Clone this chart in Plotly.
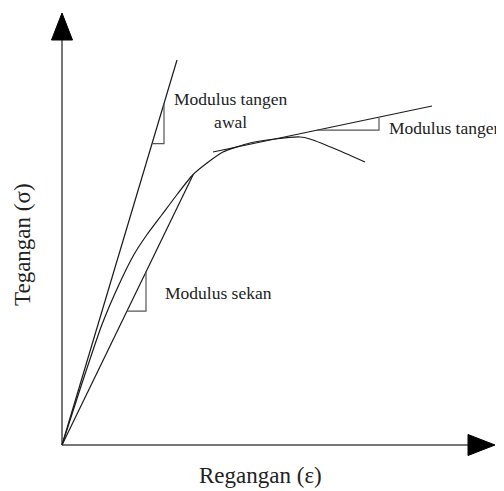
import plotly.graph_objects as go

# --- stress-strain sketch (arbitrary units, origin at 0,0) ---
curve_strain = [0, 19.4, 39.8, 56.8, 71.7, 84.7, 99.7, 114.7, 130.6, 145, 161, 188, 213, 238, 248, 271, 303]
curve_stress = [0, 60, 120, 160, 190, 210, 230, 250, 270, 282, 293, 302, 306, 308, 306, 297, 283]

# straight lines: [start, end] for strain and stress
initial_tangent_strain = [0, 115]
initial_tangent_stress = [0, 385]
secant_strain = [0, 131]
secant_stress = [0, 270]
tangent_strain = [151, 370]
tangent_stress = [293, 339]

# slope triangles: strain positions on each line
initial_tri = [90, 102]
secant_tri = [65, 84]
tangent_tri = [255, 317]

AXIS_X_END = 433
AXIS_Y_END = 432
ARROW_LEN = 27
ARROW_HALF = 10.5

LINE_COLOR = "#1a1a1a"
TRI_COLOR = "#555555"
AXIS_COLOR = "#777777"
FONT = "Liberation Serif, Times New Roman, serif"


def on_line(xs, ys, x):
    slope = (ys[1] - ys[0]) / (xs[1] - xs[0])
    return ys[0] + slope * (x - xs[0])


def triangle(xs, ys, tri):
    y0 = on_line(xs, ys, tri[0])
    y1 = on_line(xs, ys, tri[1])
    return [tri[0], tri[1], tri[1]], [y0, y0, y1]


fig = go.Figure()

# axes
fig.add_trace(go.Scatter(x=[0, AXIS_X_END - ARROW_LEN], y=[0, 0], mode="lines",
                         line=dict(color=AXIS_COLOR, width=2)))
fig.add_trace(go.Scatter(x=[0, 0], y=[0, AXIS_Y_END - ARROW_LEN], mode="lines",
                         line=dict(color=AXIS_COLOR, width=2)))
fig.add_trace(go.Scatter(
    x=[AXIS_X_END - ARROW_LEN, AXIS_X_END, AXIS_X_END - ARROW_LEN, AXIS_X_END - ARROW_LEN],
    y=[-ARROW_HALF, 0, ARROW_HALF, -ARROW_HALF],
    mode="lines", fill="toself", fillcolor="black", line=dict(color="black", width=1)))
fig.add_trace(go.Scatter(
    x=[-ARROW_HALF, 0, ARROW_HALF, -ARROW_HALF],
    y=[AXIS_Y_END - ARROW_LEN, AXIS_Y_END, AXIS_Y_END - ARROW_LEN, AXIS_Y_END - ARROW_LEN],
    mode="lines", fill="toself", fillcolor="black", line=dict(color="black", width=1)))

# curve and modulus lines
fig.add_trace(go.Scatter(x=curve_strain, y=curve_stress, mode="lines",
                         line=dict(color=LINE_COLOR, width=1.2, shape="spline", smoothing=0.6)))
for xs, ys, tri in [
    (initial_tangent_strain, initial_tangent_stress, initial_tri),
    (secant_strain, secant_stress, secant_tri),
    (tangent_strain, tangent_stress, tangent_tri),
]:
    fig.add_trace(go.Scatter(x=xs, y=ys, mode="lines", line=dict(color=LINE_COLOR, width=1.2)))
    tx, ty = triangle(xs, ys, tri)
    fig.add_trace(go.Scatter(x=tx, y=ty, mode="lines", line=dict(color=TRI_COLOR, width=1.2)))

labels = [
    dict(x=169, y=334.5, text="Modulus tangen<br>awal", xanchor="center", size=17.5),
    dict(x=325, y=317, text="Modulus tangen", xanchor="left", size=17.5),
    dict(x=101, y=152, text="Modulus sekan", xanchor="left", size=17.5),
    dict(x=198, y=-30, text="Regangan (ε)", xanchor="center", size=23),
]
for lab in labels:
    fig.add_annotation(x=lab["x"], y=lab["y"], text=lab["text"], showarrow=False,
                       xanchor=lab["xanchor"], yanchor="middle",
                       font=dict(family=FONT, size=lab["size"], color="#222222"))
fig.add_annotation(x=-40, y=200, text="Tegangan (σ)", showarrow=False, textangle=-90,
                   font=dict(family=FONT, size=23, color="#222222"))

# page body has an 8px margin, so the figure is sized to end at the window edge
fig.update_layout(
    width=496, height=483,
    margin=dict(l=0, r=0, t=0, b=0),
    paper_bgcolor="white", plot_bgcolor="white",
    showlegend=False,
    xaxis=dict(range=[-54, 442], visible=False, fixedrange=True),
    yaxis=dict(range=[-46, 437], visible=False, fixedrange=True),
)

fig.write_html("out.html")
